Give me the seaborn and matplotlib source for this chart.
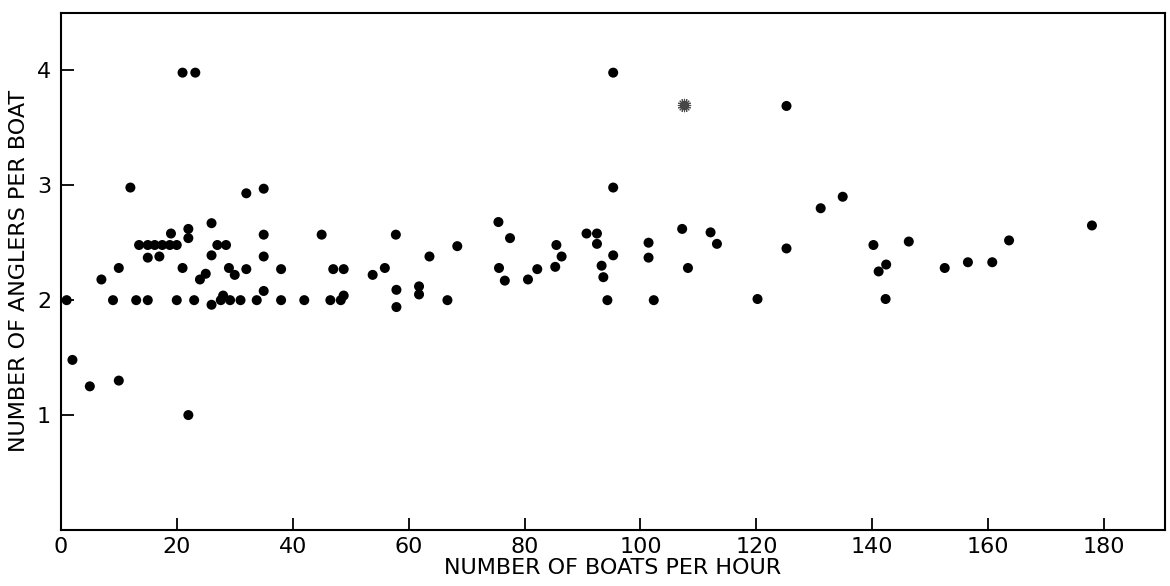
import matplotlib
matplotlib.use("Agg")
import matplotlib.pyplot as plt
import seaborn as sns
import pandas as pd

# Boats per hour vs. anglers per boat, one dot per survey period
boats_per_hour = [
    1, 2, 5, 10, 7, 10, 9, 12, 13, 15,
    13.5, 15, 16.2, 17.5, 18.8, 20,
    15, 17, 19, 20, 21, 21, 22, 22, 22, 23, 23.2,
    24, 25, 26, 26, 26, 27, 28.5, 28, 27.6, 29.2, 29, 30, 31,
    32, 32, 33.8, 35, 35, 35, 35, 38, 38, 42, 45, 47, 46.5, 48.3, 48.8, 48.8,
    53.8, 55.9, 57.8, 57.9, 57.9, 61.8, 61.8, 63.6, 66.7, 68.4,
    75.5, 77.5, 75.6, 76.6, 80.6, 82.2, 85.5, 86.4, 85.3,
    90.7, 92.5, 92.5, 93.3, 93.6, 94.3, 95.3, 95.3, 95.3,
    101.4, 101.4, 102.3, 107.2, 108.2, 112.1, 113.2, 120.2,
    125.2, 125.2, 131.1, 134.9, 140.2, 141.1, 142.4, 142.3, 146.3,
    152.5, 156.5, 160.7, 163.6, 177.9,
]
anglers_per_boat = [
    2.0, 1.48, 1.25, 1.30, 2.18, 2.28, 2.0, 2.98, 2.0, 2.0,
    2.48, 2.48, 2.48, 2.48, 2.48, 2.48,
    2.37, 2.38, 2.58, 2.0, 2.28, 3.98, 2.62, 2.54, 1.0, 2.0, 3.98,
    2.18, 2.23, 2.67, 2.39, 1.96, 2.48, 2.48, 2.04, 2.0, 2.0, 2.28, 2.22, 2.0,
    2.93, 2.27, 2.0, 2.97, 2.57, 2.38, 2.08, 2.27, 2.0, 2.0, 2.57, 2.27, 2.0, 2.0, 2.27, 2.04,
    2.22, 2.28, 2.57, 2.09, 1.94, 2.12, 2.05, 2.38, 2.0, 2.47,
    2.68, 2.54, 2.28, 2.17, 2.18, 2.27, 2.48, 2.38, 2.29,
    2.58, 2.58, 2.49, 2.30, 2.20, 2.0, 3.98, 2.98, 2.39,
    2.50, 2.37, 2.0, 2.62, 2.28, 2.59, 2.49, 2.01,
    3.69, 2.45, 2.80, 2.90, 2.48, 2.25, 2.31, 2.01, 2.51,
    2.28, 2.33, 2.33, 2.52, 2.65,
]

# A single smudged observation drawn with a spiky marker
smudge_boats = [107.5]
smudge_anglers = [3.70]

x_ticks = [0, 20, 40, 60, 80, 100, 120, 140, 160, 180]
y_ticks = [1, 2, 3, 4]

sns.set_theme(style="ticks")
plt.rcParams["font.family"] = ["DejaVu Sans"]

df = pd.DataFrame({"boats": boats_per_hour, "anglers": anglers_per_boat})
df_smudge = pd.DataFrame({"boats": smudge_boats, "anglers": smudge_anglers})

fig = plt.figure(figsize=(11.7, 5.86), dpi=100)
ax = fig.add_axes([0.052, 0.0956, 0.9437, 0.8824])

sns.scatterplot(data=df, x="boats", y="anglers", ax=ax, color="black",
                s=52, edgecolor="none", linewidth=0, legend=False)
sns.scatterplot(data=df_smudge, x="boats", y="anglers", ax=ax, color="#333333",
                marker=(16, 2, 0), s=80, linewidth=0.8, alpha=0.9, legend=False)

ax.set_xlim(0, 190.5)
ax.set_ylim(0, 4.5)
ax.set_xticks(x_ticks)
ax.set_yticks(y_ticks)
ax.tick_params(axis="both", direction="in", length=9, width=1.3,
               labelsize=16, color="black", labelcolor="black")
ax.tick_params(axis="x", pad=5)
ax.tick_params(axis="y", pad=7)

for spine in ax.spines.values():
    spine.set_visible(True)
    spine.set_color("black")
    spine.set_linewidth(1.5)

ax.set_xlabel("NUMBER OF BOATS PER HOUR", fontsize=16, color="black", labelpad=1)
ax.set_ylabel("NUMBER OF ANGLERS PER BOAT", fontsize=16, color="black", labelpad=6)
ax.grid(False)
ax.set_facecolor("white")
fig.patch.set_facecolor("white")

fig.savefig("out.png", dpi=100)
